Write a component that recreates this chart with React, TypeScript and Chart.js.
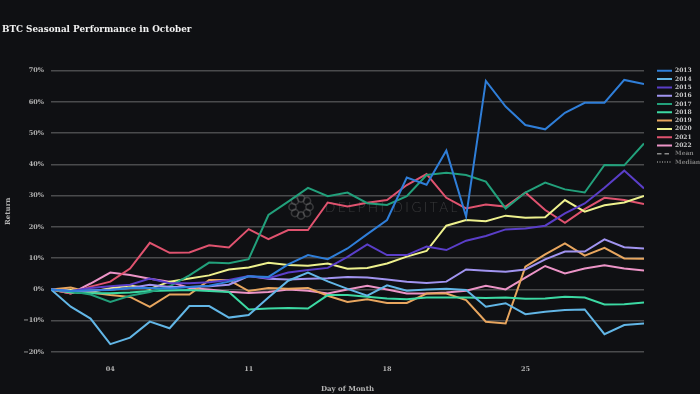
import { useEffect, useRef } from 'react';
import { Chart, registerables } from 'chart.js';

Chart.register(...registerables);

const BG = '#0f1013';

const days = [1, 2, 3, 4, 5, 6, 7, 8, 9, 10, 11, 12, 13, 14, 15, 16, 17, 18, 19, 20, 21, 22, 23, 24, 25, 26, 27, 28, 29, 30, 31];
const tickDays = [4, 11, 18, 25];
const yTicks = [-20, -10, 0, 10, 20, 30, 40, 50, 60, 70];

const years = ['2013', '2014', '2015', '2016', '2017', '2018', '2019', '2020', '2021', '2022'];
const yearColors = ['#2f7ed8', '#62b6e6', '#5a3ec8', '#a194f0', '#22a07b', '#3cd9a3', '#e8a65f', '#eef18e', '#e0536f', '#ec94c7'];

const r2013 = [0, -0.5, -0.3, -0.2, 0.5, 0.5, 0.3, 0.8, 1.2, 2.5, 4.2, 4.0, 8.0, 11.0, 9.7, 13.1, 17.7, 22.2, 35.8, 33.5, 44.4, 23.3, 66.7, 58.5, 52.6, 51.2, 56.5, 59.7, 59.7, 67.0, 65.7];
const r2014 = [0, -5.5, -9.3, -17.5, -15.4, -10.3, -12.4, -5.3, -5.3, -9.0, -8.2, -2.6, 2.8, 5.4, 2.6, 0.2, -2.0, 1.3, -0.4, 0, 0.2, -0.2, -5.5, -4.4, -7.9, -7.1, -6.6, -6.4, -14.3, -11.4, -10.9];
const r2015 = [0, -0.5, 0.5, 1.0, 1.5, 3.5, 2.0, 2.0, 2.3, 3.0, 4.3, 3.6, 5.4, 6.2, 6.9, 10.4, 14.4, 11.0, 11.0, 13.7, 12.6, 15.6, 17.1, 19.2, 19.5, 20.4, 24.3, 27.5, 32.5, 38.0, 32.3];
const r2016 = [0, -0.5, -0.3, 0, 0.5, 1.5, 0.8, 0.8, 1.0, 1.5, 4.3, 3.4, 3.2, 3.4, 3.6, 4.0, 3.8, 3.2, 2.5, 2.1, 2.5, 6.4, 6.0, 5.7, 6.4, 9.6, 12.1, 12.1, 16.0, 13.5, 13.1];
const r2017 = [0, -0.6, -1.6, -4.0, -2.0, -0.8, 1.0, 4.5, 8.6, 8.4, 9.7, 23.8, 28.1, 32.5, 29.8, 31.0, 27.6, 27.0, 29.8, 36.6, 37.3, 36.6, 34.5, 25.9, 31.0, 34.2, 32.0, 31.0, 39.8, 39.7, 46.7];
const r2018 = [0, -1.0, -1.2, -1.2, -1.0, -0.5, -0.3, -0.2, -0.5, -0.8, -6.4, -6.1, -5.9, -6.1, -1.8, -1.8, -2.3, -2.9, -3.1, -2.6, -2.6, -2.6, -2.7, -2.6, -3.0, -2.9, -2.3, -2.6, -4.8, -4.7, -4.2];
const r2019 = [0, 0.6, -1.0, -1.8, -2.4, -5.6, -1.6, -1.6, 3.0, 3.0, -0.5, 0.5, 0.2, 0.5, -2.0, -4.0, -3.1, -4.3, -4.3, -1.3, -1.3, -3.4, -10.3, -10.9, 7.3, 11.2, 14.7, 10.8, 13.3, 9.9, 9.8];
const r2020 = [0, -0.2, -0.8, 0.4, 1.3, 0.2, 2.5, 3.5, 4.5, 6.4, 7.0, 8.5, 7.8, 7.6, 8.3, 6.6, 6.9, 8.3, 10.5, 12.3, 20.4, 22.2, 21.8, 23.6, 22.9, 23.1, 28.6, 24.9, 26.9, 27.8, 29.9];
const r2021 = [0, -1.3, 0.9, 2.5, 6.7, 14.9, 11.7, 11.8, 14.1, 13.4, 19.3, 16.1, 19.0, 19.0, 27.8, 26.5, 27.7, 28.6, 33.4, 36.9, 29.3, 25.9, 27.2, 26.5, 31.0, 25.4, 21.3, 25.7, 29.3, 28.6, 27.3];
const r2022 = [0, -1.3, 1.9, 5.4, 4.6, 3.4, 2.5, 0.5, 0, -0.7, -1.1, -0.8, 0, -0.4, -1.3, 0, 1.2, 0, -1.3, -1.3, -1.0, -0.4, 1.2, 0, 3.8, 7.5, 5.1, 6.7, 7.7, 6.7, 6.1];

const yearSeries = [r2013, r2014, r2015, r2016, r2017, r2018, r2019, r2020, r2021, r2022];

const statNames = ['Mean', 'Median'];
const statDashes = [[4.5, 3], [1, 1.5]];

const TITLE = 'BTC Seasonal Performance in October';
const X_TITLE = 'Day of Month';
const Y_TITLE = 'Return';
const WATERMARK = 'DELPHI DIGITAL';

const SERIF = "'DejaVu Serif', serif";

const layoutFix = {
  id: 'layoutFix',
  beforeLayout(chart: any) {
    const lg = chart.legend;
    if (lg && !lg.__patched) {
      const orig = lg.fit;
      lg.fit = function () {
        orig.call(this);
        this.width = 56;
      };
      lg.__patched = true;
    }
  },
  afterLayout(chart: any) {
    const lg = chart.legend;
    if (lg) {
      const h = lg.bottom - lg.top;
      lg.left = 654.7;
      lg.right = 700;
      lg.width = 700 - 654.7;
      lg.top = 65.5;
      lg.bottom = 65.5 + h;
    }
    const tb = chart.titleBlock;
    if (tb) {
      tb.left = 2;
    }
  },
};

const watermark = {
  id: 'watermark',
  beforeDatasetsDraw(chart: any) {
    const ctx = chart.ctx as CanvasRenderingContext2D;
    ctx.save();
    ctx.strokeStyle = 'rgba(140,140,140,0.32)';
    ctx.lineWidth = 1.6;
    const cx = 301, cy = 207, R = 8.5;
    for (let i = 0; i < 8; i++) {
      const a = (i / 8) * Math.PI * 2;
      ctx.beginPath();
      ctx.arc(cx + R * Math.cos(a), cy + R * Math.sin(a), 3.6, 0, Math.PI * 2);
      ctx.stroke();
    }
    ctx.fillStyle = 'rgba(140,140,140,0.32)';
    ctx.font = "300 13.5px Lato, 'DejaVu Sans', sans-serif";
    (ctx as any).letterSpacing = '2.5px';
    ctx.textBaseline = 'middle';
    ctx.textAlign = 'left';
    ctx.fillText(WATERMARK, 325, 208);
    ctx.restore();
  },
};

export default function App() {
  const ref = useRef<HTMLCanvasElement>(null);

  useEffect(() => {
    document.body.style.margin = '0';
    const canvas = ref.current;
    if (!canvas) return;

    const datasets: any[] = years.map((y, i) => ({
      label: y,
      data: days.map((d, k) => ({ x: d, y: yearSeries[i][k] })),
      borderColor: yearColors[i],
      backgroundColor: yearColors[i],
      borderWidth: 2,
      pointRadius: 0,
      tension: 0,
      fill: false,
    }));
    statNames.forEach((n, i) => {
      datasets.push({
        label: n,
        data: [],
        borderColor: '#8a8a8a',
        backgroundColor: '#8a8a8a',
        borderWidth: 1.5,
        borderDash: statDashes[i],
        pointRadius: 0,
        fill: false,
      });
    });

    const chart = new Chart(canvas, {
      type: 'line',
      data: { datasets },
      options: {
        animation: false,
        responsive: false,
        devicePixelRatio: 1,
        layout: { padding: 0 },
        font: { family: SERIF, weight: 'bold' } as any,
        plugins: {
          title: {
            display: true,
            text: TITLE,
            align: 'start',
            color: '#f2f2f2',
            font: { family: SERIF, size: 8.8, weight: 'bold' },
            padding: { top: 24, bottom: 36 },
          },
          legend: {
            display: true,
            position: 'right',
            align: 'start',
            fullSize: false,
            labels: {
              usePointStyle: true,
              pointStyle: 'line',
              pointStyleWidth: 15,
              boxHeight: 6,
              padding: 2.3,
              color: '#c8c8c8',
              font: { family: SERIF, size: 6, weight: 'bold' },
              generateLabels(chart: any) {
                const items = (Chart.defaults.plugins.legend.labels as any).generateLabels(chart);
                items.forEach((it: any) => {
                  it.lineWidth = 2;
                  const si = statNames.indexOf(it.text);
                  if (si >= 0) {
                    it.fontColor = '#7c7c7c';
                    it.lineDash = statDashes[si];
                    it.lineWidth = 1.5;
                  } else {
                    it.fontColor = '#c8c8c8';
                  }
                });
                return items;
              },
            },
          },
          tooltip: { enabled: false },
        },
        scales: {
          x: {
            type: 'linear',
            min: days[0],
            max: days[days.length - 1],
            grid: { display: false, drawTicks: false },
            border: { display: false },
            afterBuildTicks(scale: any) {
              scale.ticks = tickDays.map((v) => ({ value: v }));
            },
            afterFit(scale: any) {
              scale.height = 42;
            },
            ticks: {
              color: '#b4b4b4',
              padding: 13,
              font: { family: SERIF, size: 6.5, weight: 'bold' },
              maxRotation: 0,
              autoSkip: false,
              callback: (v: any) => String(v).padStart(2, '0'),
            },
            title: {
              display: true,
              text: X_TITLE,
              color: '#b4b4b4',
              font: { family: SERIF, size: 7, weight: 'bold' },
              padding: { top: 0, bottom: 1 },
            },
          },
          y: {
            type: 'linear',
            min: yTicks[0],
            max: yTicks[yTicks.length - 1],
            grid: { color: '#4a4b4d', lineWidth: 1.5, drawTicks: false },
            border: { display: false },
            afterBuildTicks(scale: any) {
              scale.ticks = yTicks.map((v) => ({ value: v }));
            },
            afterFit(scale: any) {
              scale.width = 51;
            },
            ticks: {
              color: '#b4b4b4',
              padding: 7,
              font: { family: SERIF, size: 6.5, weight: 'bold' },
              callback: (v: any) => (Number(v) < 0 ? '\u2212' + Math.abs(Number(v)) : String(v)) + '%',
            },
            title: {
              display: true,
              text: Y_TITLE,
              color: '#b4b4b4',
              font: { family: SERIF, size: 7, weight: 'bold' },
              padding: { top: 4, bottom: 0 },
            },
          },
        },
      } as any,
      plugins: [layoutFix, watermark],
    });

    return () => chart.destroy();
  }, []);

  return (
    <div style={{ position: 'fixed', left: 0, top: 0, width: 700, height: 394, background: BG }}>
      <canvas ref={ref} width={700} height={394} style={{ display: 'block', width: 700, height: 394 }} />
    </div>
  );
}
